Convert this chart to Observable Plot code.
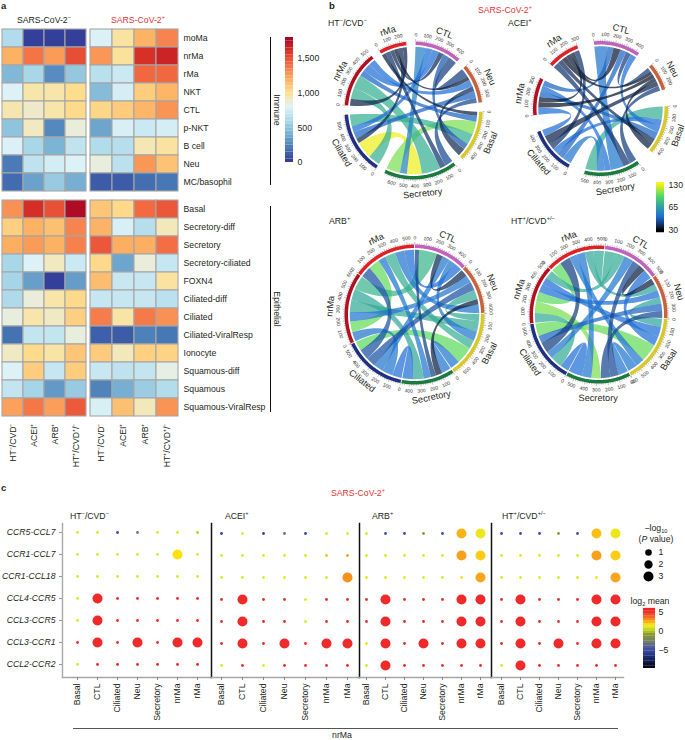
<!DOCTYPE html>
<html><head><meta charset="utf-8">
<script src="https://cdn.jsdelivr.net/npm/d3@7"></script>
<script src="https://cdn.jsdelivr.net/npm/@observablehq/plot@0.6"></script>
<style>
html,body{margin:0;padding:0;background:#fff}
#root{position:relative;width:685px;height:740px;overflow:hidden;font-family:"Liberation Sans",Arial,sans-serif;color:#231f20}
#root>div.t{position:absolute;white-space:nowrap;line-height:1}
#root>div.p{position:absolute}
#root>div.r{position:absolute}
sup,sub{font-size:65%;line-height:0}
svg{overflow:visible;max-width:none !important}
</style></head><body><div id="root"></div>
<script>
// ---------- panel a ----------
const groups = ["HT⁻/CVD⁻","ACEI⁺","ARB⁺","HT⁺/CVD⁺/⁻"];
const immuneRows = ["moMa","nrMa","rMa","NKT","CTL","p-NKT","B cell","Neu","MC/basophil"];
const epiRows = ["Basal","Secretory-diff","Secretory","Secretory-ciliated","FOXN4","Ciliated-diff","Ciliated","Ciliated-ViralResp","Ionocyte","Squamous-diff","Squamous","Squamous-ViralResp"];
const immuneNeg = [[620,30,30,30],[1190,1380,1260,1500],[450,590,280,520],[790,950,950,1010],[940,890,950,1020],[500,910,270,860],[780,590,430,680],[220,670,750,790],[170,360,530,410]];
const immunePos = [[780,970,1180,1330],[1270,980,1600,1650],[650,720,1420,1420],[470,760,1080,1170],[1040,1090,1170,1280],[370,770,720,760],[620,640,930,970],[850,660,1270,1120],[120,120,180,210]];
const epiNeg = [[1290,1610,1490,1760],[1070,1190,1130,1330],[1200,1260,1190,1340],[590,790,910,720],[580,350,30,340],[610,860,950,1030],[850,950,900,1070],[190,690,690,850],[900,1020,960,1110],[790,1080,700,1080],[690,580,330,530],[1240,1370,1250,1460]];
const epiPos = [[1110,1030,1410,1470],[1180,770,640,920],[1470,1200,1200,1400],[1030,370,860,700],[1140,710,700,970],[700,700,700,660],[1350,960,1360,1290],[130,120,240,210],[1090,920,1060,1050],[710,670,690,840],[250,410,540,630],[770,1130,920,1280]];
const heatStops = ["#313695","#4575b4","#74add1","#abd9e9","#e0f3f8","#fee090","#fdae61","#f46d43","#d73027","#a50026"];
const heatDomain = [0,200,400,600,800,1000,1200,1400,1600,1800];
const heatTicks = [0,500,1000,1500];

// ---------- panel b ----------
const sectorNames = ["rMa","CTL","Neu","Basal","Secretory","Ciliated","nrMa"];
const sectorColors = ["#e02027","#c163bd","#c9623a","#d9c928","#1b7a3f","#1f2f82","#b30f20"];
// each sector, clockwise: [partner sector, ribbon width]
const endsHTneg = [
 [[3,40],[4,50],[1,40],[2,40],[5,50],[6,40]],
 [[4,100],[5,70],[6,70],[0,50],[3,60],[2,90]],
 [[1,90],[0,40],[6,70],[3,50],[5,70],[4,50]],
 [[0,40],[6,60],[4,130],[5,110],[1,60],[2,80]],
 [[2,80],[0,60],[6,190],[5,150],[1,70],[3,140]],
 [[6,120],[4,170],[0,50],[2,70],[1,60],[3,120]],
 [[0,70],[5,110],[4,140],[3,60],[1,80],[2,70]]];
const endsACEI = [
 [[4,60],[3,50],[2,50],[1,50],[6,40],[5,50]],
 [[4,130],[6,60],[0,70],[5,60],[2,50],[3,60]],
 [[1,40],[0,35],[6,40],[3,40],[5,50],[4,50]],
 [[4,130],[5,60],[1,70],[6,70],[0,50],[2,70]],
 [[2,70],[0,70],[1,130],[6,60],[5,80],[3,110]],
 [[4,90],[1,70],[3,60],[0,60],[2,90],[6,65]],
 [[5,70],[2,55],[0,50],[3,55],[4,60],[1,55]]];
const endsARB = [
 [[5,100],[6,110],[4,70],[3,100],[2,90],[1,90]],
 [[4,40],[6,170],[2,60],[5,70],[3,60],[0,80]],
 [[1,70],[6,70],[5,80],[3,90],[4,50],[0,80]],
 [[2,70],[6,100],[1,90],[0,80],[5,160],[4,90]],
 [[3,90],[2,60],[1,50],[0,70],[6,100],[5,100]],
 [[4,90],[6,100],[1,90],[2,90],[0,100],[3,90]],
 [[5,90],[0,100],[2,90],[3,110],[4,110],[1,130]]];
const endsHTpos = [
 [[6,100],[5,100],[3,70],[4,80],[2,80],[1,100]],
 [[0,100],[6,90],[5,90],[4,70],[2,70],[3,90]],
 [[1,60],[0,60],[6,70],[3,60],[5,70],[4,65]],
 [[2,80],[6,90],[1,90],[5,170],[0,80],[4,90]],
 [[3,90],[1,80],[2,90],[6,90],[0,90],[5,130]],
 [[4,80],[6,110],[1,70],[0,100],[2,70],[3,120]],
 [[5,90],[4,110],[0,90],[2,80],[3,70],[1,80]]];
// interaction count of a pair of sectors: [a, b, count]
const countsHTneg = [[0,1,36],[0,2,33],[0,3,34],[0,4,38],[0,5,36],[0,6,35],[1,2,40],[1,3,45],[1,4,55],[1,5,50],[1,6,50],[2,3,36],[2,4,42],[2,5,48],[2,6,50],[3,4,105],[3,5,72],[3,6,48],[4,5,130],[4,6,72],[5,6,72]];
const countsACEI = [[0,1,33],[0,2,32],[0,3,36],[0,4,38],[0,5,38],[0,6,33],[1,2,40],[1,3,50],[1,4,52],[1,5,48],[1,6,48],[2,3,34],[2,4,40],[2,5,35],[2,6,32],[3,4,72],[3,5,50],[3,6,48],[4,5,52],[4,6,50],[5,6,50]];
const countsARB = [[0,1,50],[0,2,52],[0,3,72],[0,4,52],[0,5,44],[0,6,100],[1,2,36],[1,3,52],[1,4,40],[1,5,52],[1,6,75],[2,3,70],[2,4,34],[2,5,44],[2,6,52],[3,4,52],[3,5,98],[3,6,70],[4,5,50],[4,6,68],[5,6,52]];
const countsHTpos = [[0,1,70],[0,2,68],[0,3,52],[0,4,52],[0,5,40],[0,6,98],[1,2,34],[1,3,50],[1,4,42],[1,5,52],[1,6,70],[2,3,66],[2,4,42],[2,5,48],[2,6,50],[3,4,52],[3,5,100],[3,6,50],[4,5,50],[4,6,105],[5,6,70]];
const countDomain = [30,38,50,65,95,130];
const countRange = ["#04060f","#12356e","#1f6fd6","#2fa3a0","#4fd865","#eef01e"];
const countTicks = [30,65,130];

// ---------- panel c ----------
const pairs = ["CCR5-CCL7","CCR1-CCL7","CCR1-CCL18","CCL4-CCR5","CCL3-CCR5","CCL3-CCR1","CCL2-CCR2"];
const cells = ["Basal","CTL","Ciliated","Neu","Secretory","nrMa","rMa"];
const meanHTneg = [[1,1,-5,-3,1,1,0],[1,1,1,1,1,1.5,1],[.9,.9,.9,.9,.9,.9,.9],[1,5,5,5,5,5,5],[1,5,5,5,5,5,5],[5,5,5,5,5,5,5],[1,5,5,5,5,5,5]];
const pvalHTneg = [[0,0,0,0,0,0,0],[0,0,0,0,0,3,0],[0,0,0,0,0,0,0],[0,3,0,0,0,0,0],[0,3,0,0,0,0,0],[0,3,0,3,0,3,3],[0,0,0,0,0,0,0]];
const meanACEI = [[-5.5,1,-5.5,-3,-5.5,1,1],[1,1,1,1,1,2,2.4],[1,1,1,1,1,1,2.8],[5,5,5,5,1,5,5],[5,5,5,5,1,5,5],[5,5,5,5,5,5,5],[1,5,1,5,5,5,5]];
const pvalACEI = [[0,0,0,0,0,0,0],[0,0,0,0,0,0,0],[0,0,0,0,0,0,3],[0,3,0,0,0,0,0],[0,3,0,0,0,0,0],[0,3,0,3,0,3,3],[0,0,0,0,0,0,0]];
const meanARB = [[1,-5,-5,-1,-5,2.2,1.2],[1,1,1,1,1,2.5,1.8],[1,1,1,1,1,1.2,2.4],[5,5,5,5,5,5,5],[5,5,5,5,5,5,5],[1,5,5,5,5,5,5],[1,5,5,5,5,5,5]];
const pvalARB = [[0,0,0,0,0,3,3],[0,0,0,0,0,3,3],[0,0,0,0,0,0,3],[0,3,0,0,0,3,3],[0,3,0,0,0,3,3],[0,3,0,3,0,3,3],[0,3,0,0,0,0,0]];
const meanHTpos = [[-5,-5,-5,-1,-5,2,1.2],[1,1,1,1,1,2.5,1.8],[1,1,1,1,1,1.2,2.4],[5,5,5,5,5,5,5],[5,5,5,5,5,5,5],[5,5,5,5,5,5,5],[1,5,5,5,5,5,5]];
const pvalHTpos = [[0,0,0,0,0,3,3],[0,0,0,0,0,3,3],[0,0,0,0,0,0,3],[0,3,0,0,0,3,3],[0,3,0,0,0,3,3],[0,3,0,3,0,3,3],[0,3,0,0,0,0,0]];
const meanDomain = [-9.7,-7,-5,-3,-1,0,1,1.5,2.5,3.5,5,5.6];
const meanRange = ["#05050f","#1a2a70","#3c4da8","#707a70","#8a9a30","#b8d020","#e0ea20","#fde010","#f9a01c","#f26a20","#ee2a2a","#ee2222"];
const pvalDomain = [0,1,3];
const pvalRange = [1.4,3.3,5];
const pvalLegend = [1,2,3];
const meanTicks = [5,0,-5];

// ---------- layout helpers ----------
const root = document.getElementById("root");
const FONT = '"Liberation Sans",Arial,sans-serif', FS = 8.7;
const baseStyle = {fontFamily:FONT,fontSize:FS+"px",background:"transparent",color:"#231f20",overflow:"visible"};
function place(plot,left,top){const d=document.createElement("div");d.className="p";d.style.left=left+"px";d.style.top=top+"px";d.appendChild(plot);root.appendChild(d);}
function label(html,x,y,o={}){const d=document.createElement("div");d.className="t";d.innerHTML=html;
 d.style.left=x+"px";d.style.top=y+"px";d.style.fontSize=(o.size||FS)+"px";if(o.color)d.style.color=o.color;if(o.bold)d.style.fontWeight="700";
 if(o.align)d.style.textAlign=o.align;
 const ax=o.anchor==="start"?"0":o.anchor==="end"?"-100%":"-50%";d.style.transform=`translate(${ax},-50%)`+(o.rotate?` rotate(${o.rotate}deg)`:"");root.appendChild(d);}
function rule(x,y,w,h,c){const d=document.createElement("div");d.className="r";Object.assign(d.style,{left:x+"px",top:y+"px",width:w+"px",height:h+"px",background:c});root.appendChild(d);}

// ---------- panel a drawing ----------
const heatColor = {type:"linear",domain:heatDomain,range:heatStops};
function heat(rows,matrix,left,top,w,opts={}){
 const flat=[];rows.forEach((r,i)=>groups.forEach((g,j)=>flat.push({r,g,v:matrix[i][j]})));
 const bh=opts.bh, mb=opts.xaxis?62:0, mr=opts.yaxis?110:0;
 place(Plot.plot({width:w+mr,height:rows.length*bh+mb,marginLeft:0,marginTop:0,marginRight:mr,marginBottom:mb,style:baseStyle,
  x:{type:"band",domain:groups,padding:0,label:null,axis:opts.xaxis?"bottom":null,tickRotate:-90,tickSize:0,tickPadding:4},
  y:{type:"band",domain:rows,padding:0,label:null,axis:opts.yaxis?"right":null,tickSize:0,tickPadding:5},
  color:heatColor,
  marks:[Plot.cell(flat,{x:"g",y:"r",fill:"v",stroke:"#a6a6a6",strokeWidth:1.1})]}),left,top);
}
heat(immuneRows,immuneNeg,1,27,86,{bh:18.55});
heat(immuneRows,immunePos,90,27,88,{bh:18.55,yaxis:true});
heat(epiRows,epiNeg,1,197,86,{bh:18.5,xaxis:true});
heat(epiRows,epiPos,90,197,88,{bh:18.5,xaxis:true,yaxis:true});
label("a",1,6,{bold:true,size:9.5,anchor:"start"});
label("SARS-CoV-2<sup>−</sup>",44,20,{size:8.7});
label("SARS-CoV-2<sup>+</sup>",138,20,{size:8.7,color:"#e8333a"});
rule(269.5,37,1.3,148,"#111");rule(269.5,206,1.3,206,"#111");
label("Immune",277,110,{rotate:90});
label("Epithelial",277,309,{rotate:90});
// heat colour bar
const heatSteps=d3.range(0,1800,50);
place(Plot.plot({width:40,height:125,marginLeft:0,marginRight:32,marginTop:0,marginBottom:0,style:baseStyle,
 x:{domain:[0,1],axis:null},y:{domain:[0,1800],label:null,axis:null},color:heatColor,
 marks:[Plot.rect(heatSteps,{x1:0,x2:1,y1:d=>d,y2:d=>d+50,fill:d=>d+25}),
        Plot.axisY(heatTicks,{anchor:"right",tickSize:0,tickPadding:4,label:null,tickFormat:d3.format(",")})]}),285,37);

// ---------- panel b drawing ----------
const rad=d=>d*Math.PI/180;
const pol=(r,a)=>[r*Math.sin(rad(a)),-r*Math.cos(rad(a))];
function chord(ends,counts,cx,cy,R,start,gap){
 const totals=ends.map(e=>d3.sum(e,d=>d[1]));
 const k=(360-7*gap)/d3.sum(totals);
 const rIn=R-5.3, rRing=R-1.75;
 let a=start;
 const sectors=totals.map((t,i)=>{const s={i,start:a,end:a+t*k,total:t};a=s.end+gap;return s;});
 const arcEnd={};
 ends.forEach((e,i)=>{let pos=sectors[i].start;e.forEach(([p,w])=>{arcEnd[i+"-"+p]=[pos,pos+w*k];pos+=w*k;});});
 const ribbons=[...counts].sort((p,q)=>q[2]-p[2]);
 const pts=[];
 ribbons.forEach(([u,v,n],id)=>{
  const A=arcEnd[u+"-"+v],B=arcEnd[v+"-"+u];if(!A||!B)return;
  const add=(x,y)=>pts.push({id,n,x,y});
  const arc=(a0,a1)=>{const m=Math.max(2,Math.ceil(Math.abs(a1-a0)));for(let t=0;t<=m;t++){const p=pol(rIn,a0+(a1-a0)*t/m);add(p[0],p[1]);}};
  const bez=(a0,a1)=>{const p0=pol(rIn,a0),p2=pol(rIn,a1);for(let t=1;t<24;t++){const s=t/24,q=(1-s)*(1-s),z=s*s;add(q*p0[0]+z*p2[0],q*p0[1]+z*p2[1]);}};
  arc(A[0],A[1]);bez(A[1],B[0]);arc(B[0],B[1]);bez(B[1],A[0]);
 });
 const ticks=[],tickLabels=[],names=[];
 sectors.forEach(s=>{
  for(let u=0;u<=s.total;u+=20){const an=s.start+u*k,major=u%100===0;
   const p=pol(R,an),q=pol(R+(major?2.4:1.3),an);ticks.push({x1:p[0],y1:p[1],x2:q[0],y2:q[1]});
   if(major){const l=pol(R+6.6,an);const n=(an%360+360)%360;tickLabels.push({x:l[0],y:l[1],t:String(u),rot:(n>90&&n<270)?n-180:n});}
  }
  const m=(s.start+s.end)/2,l=pol(R+14.5,m),n=(m%360+360)%360;
  names.push({x:l[0],y:l[1],t:sectorNames[s.i],rot:(n>90&&n<270)?n-180:n});
 });
 const size=220;
 const rings=sectors.map(s=>{const ar=d3.range(s.start,s.end,1).concat(s.end).map(an=>{const p=pol(rRing,an);return {x:p[0],y:p[1]};});
  return Plot.line(ar,{x:"x",y:"y",stroke:sectorColors[s.i],strokeWidth:3.5,strokeLinecap:"butt",curve:"linear"});});
 place(Plot.plot({width:size,height:size,margin:0,style:baseStyle,
  x:{domain:[-size/2,size/2],axis:null},y:{domain:[size/2,-size/2],axis:null},
  color:{type:"linear",domain:countDomain,range:countRange},
  marks:[
   Plot.line(pts,{x:"x",y:"y",z:"id",fill:"n",stroke:null,fillOpacity:0.72,curve:"linear"}),
   ...rings,
   Plot.link(ticks,{x1:"x1",y1:"y1",x2:"x2",y2:"y2",stroke:"#444",strokeWidth:0.35}),
   Plot.text(tickLabels,{x:"x",y:"y",text:"t",rotate:"rot",fontSize:5,fill:"#333"}),
   Plot.text(names,{x:"x",y:"y",text:"t",rotate:"rot",fontSize:9.2,fill:"#231f20"})
  ]}),cx-size/2,cy-size/2);
}
chord(endsHTneg,countsHTneg,413,110,69,-29.7,7.9);
chord(endsACEI,countsACEI,600,108,67.5,-48.6,14.6);
chord(endsARB,countsARB,414,314,70,-53.7,0.7);
chord(endsHTpos,countsHTpos,598,314,69,-46.4,0.7);
label("b",329,6,{bold:true,size:9.5,anchor:"start"});
label("SARS-CoV-2<sup>+</sup>",505,10,{color:"#e8333a"});
label("HT<sup>−</sup>/CVD<sup>−</sup>",328,23,{anchor:"start"});
label("ACEI<sup>+</sup>",508,23,{anchor:"start"});
label("ARB<sup>+</sup>",329,221,{anchor:"start"});
label("HT<sup>+</sup>/CVD<sup>+/−</sup>",511,221,{anchor:"start"});
// count colour bar: position along the bar is not linear in the count
const countPos=d3.scaleLinear().domain([130,65,30]).range([0.05,0.49,0.95]);
const countBar=d3.range(0,1,0.02);
place(Plot.plot({width:34,height:50,marginLeft:0,marginRight:26,marginTop:0,marginBottom:0,style:baseStyle,
 x:{domain:[0,1],axis:null},y:{domain:[0,1],reverse:true,axis:null},
 color:{type:"linear",domain:countDomain,range:countRange},
 marks:[Plot.rect(countBar,{x1:0,x2:1,y1:d=>d,y2:d=>d+0.025,fill:d=>countPos.invert(d+0.01)}),
        Plot.text(countTicks,{x:1,y:d=>countPos(d),text:d=>String(d),textAnchor:"start",dx:4})]}),656,182);

// ---------- panel c drawing ----------
const meanColor={type:"linear",domain:meanDomain,range:meanRange};
const rScale={type:"linear",domain:pvalDomain,range:pvalRange};
const plotH=154, bottomM=60;
function dots(mean,pval,left,width,range,dy,opts={}){
 const flat=[];pairs.forEach((p,i)=>cells.forEach((c,j)=>flat.push({p,c,m:mean[i][j],s:pval[i][j]})));
 const ml=opts.first?left:0;
 const marks=[
  Plot.frame({anchor:"bottom",stroke:"#a8a8a8",strokeWidth:1.4}),
  Plot.axisX({tickSize:3,tickRotate:-90,tickPadding:3,label:null,stroke:"#888"}),
  Plot.dot(flat,{x:"c",y:"p",r:"s",fill:"m",stroke:null})
 ];
 if(opts.first){marks.unshift(Plot.frame({anchor:"left",stroke:"#a8a8a8",strokeWidth:1.4}),
   Plot.axisY({text:null,tickSize:3,stroke:"#999",label:null}),
   Plot.axisY({tickSize:0,tickPadding:7,fontStyle:"italic",label:null}));}
 else marks.unshift(Plot.frame({anchor:"left",stroke:"#111",strokeWidth:1.5}));
 place(Plot.plot({width:width+ml,height:plotH+bottomM,marginLeft:ml,marginRight:0,marginTop:0,marginBottom:bottomM,style:baseStyle,
  x:{type:"point",domain:cells,range:range.map(d=>d-left+ml),padding:0,label:null},
  y:{type:"point",domain:pairs,range:[8+dy,141+dy],padding:0,label:null,axis:opts.first?undefined:null},
  color:meanColor,r:rScale,marks}),opts.first?0:left,523);
}
dots(meanHTneg,pvalHTneg,62,149,[75,198],0,{first:true});
dots(meanACEI,pvalACEI,211,148,[221,347],1);
dots(meanARB,pvalARB,359,132,[366,480],1);
dots(meanHTpos,pvalHTpos,491,132,[499,616],1);
label("c",1,488,{bold:true,size:9.5,anchor:"start"});
label("SARS-CoV-2<sup>+</sup>",358,493,{color:"#e8333a"});
label("HT<sup>−</sup>/CVD<sup>−</sup>",70,516,{anchor:"start"});
label("ACEI<sup>+</sup>",225,516,{anchor:"start"});
label("ARB<sup>+</sup>",372,516,{anchor:"start"});
label("HT<sup>+</sup>/CVD<sup>+/−</sup>",502,516,{anchor:"start"});
rule(73,727.5,545,1,"#555");
label("nrMa",342,735);
// -log10 P legend
label("−log<sub>10</sub>",656,528);
label("(<i>P</i> value)",656,539);
place(Plot.plot({width:40,height:48,margin:0,style:baseStyle,
 x:{domain:[0,40],axis:null},y:{type:"point",domain:pvalLegend,range:[6,30],padding:0,axis:null},r:rScale,
 marks:[Plot.dot(pvalLegend,{x:()=>8,y:d=>d,r:d=>d,fill:"#000",stroke:null}),
        Plot.text(pvalLegend,{x:()=>18,y:d=>d,text:d=>String(d),textAnchor:"start"})]}),640,546);
// log2 mean legend
label("log<sub>2</sub> mean",650,601);
const meanSteps=d3.range(-9.75,5.6,0.65);
place(Plot.plot({width:36,height:59,marginLeft:0,marginRight:24,marginTop:0,marginBottom:0,style:baseStyle,
 x:{domain:[0,1],axis:null},y:{domain:[-9.75,5.6],label:null,axis:null},color:meanColor,
 marks:[Plot.rect(meanSteps,{x1:0,x2:1,y1:d=>d,y2:d=>d+0.7,fill:d=>d+0.3}),
        Plot.axisY(meanTicks,{anchor:"right",tickSize:0,tickPadding:3,label:null})]}),643,609);
</script></body></html>
